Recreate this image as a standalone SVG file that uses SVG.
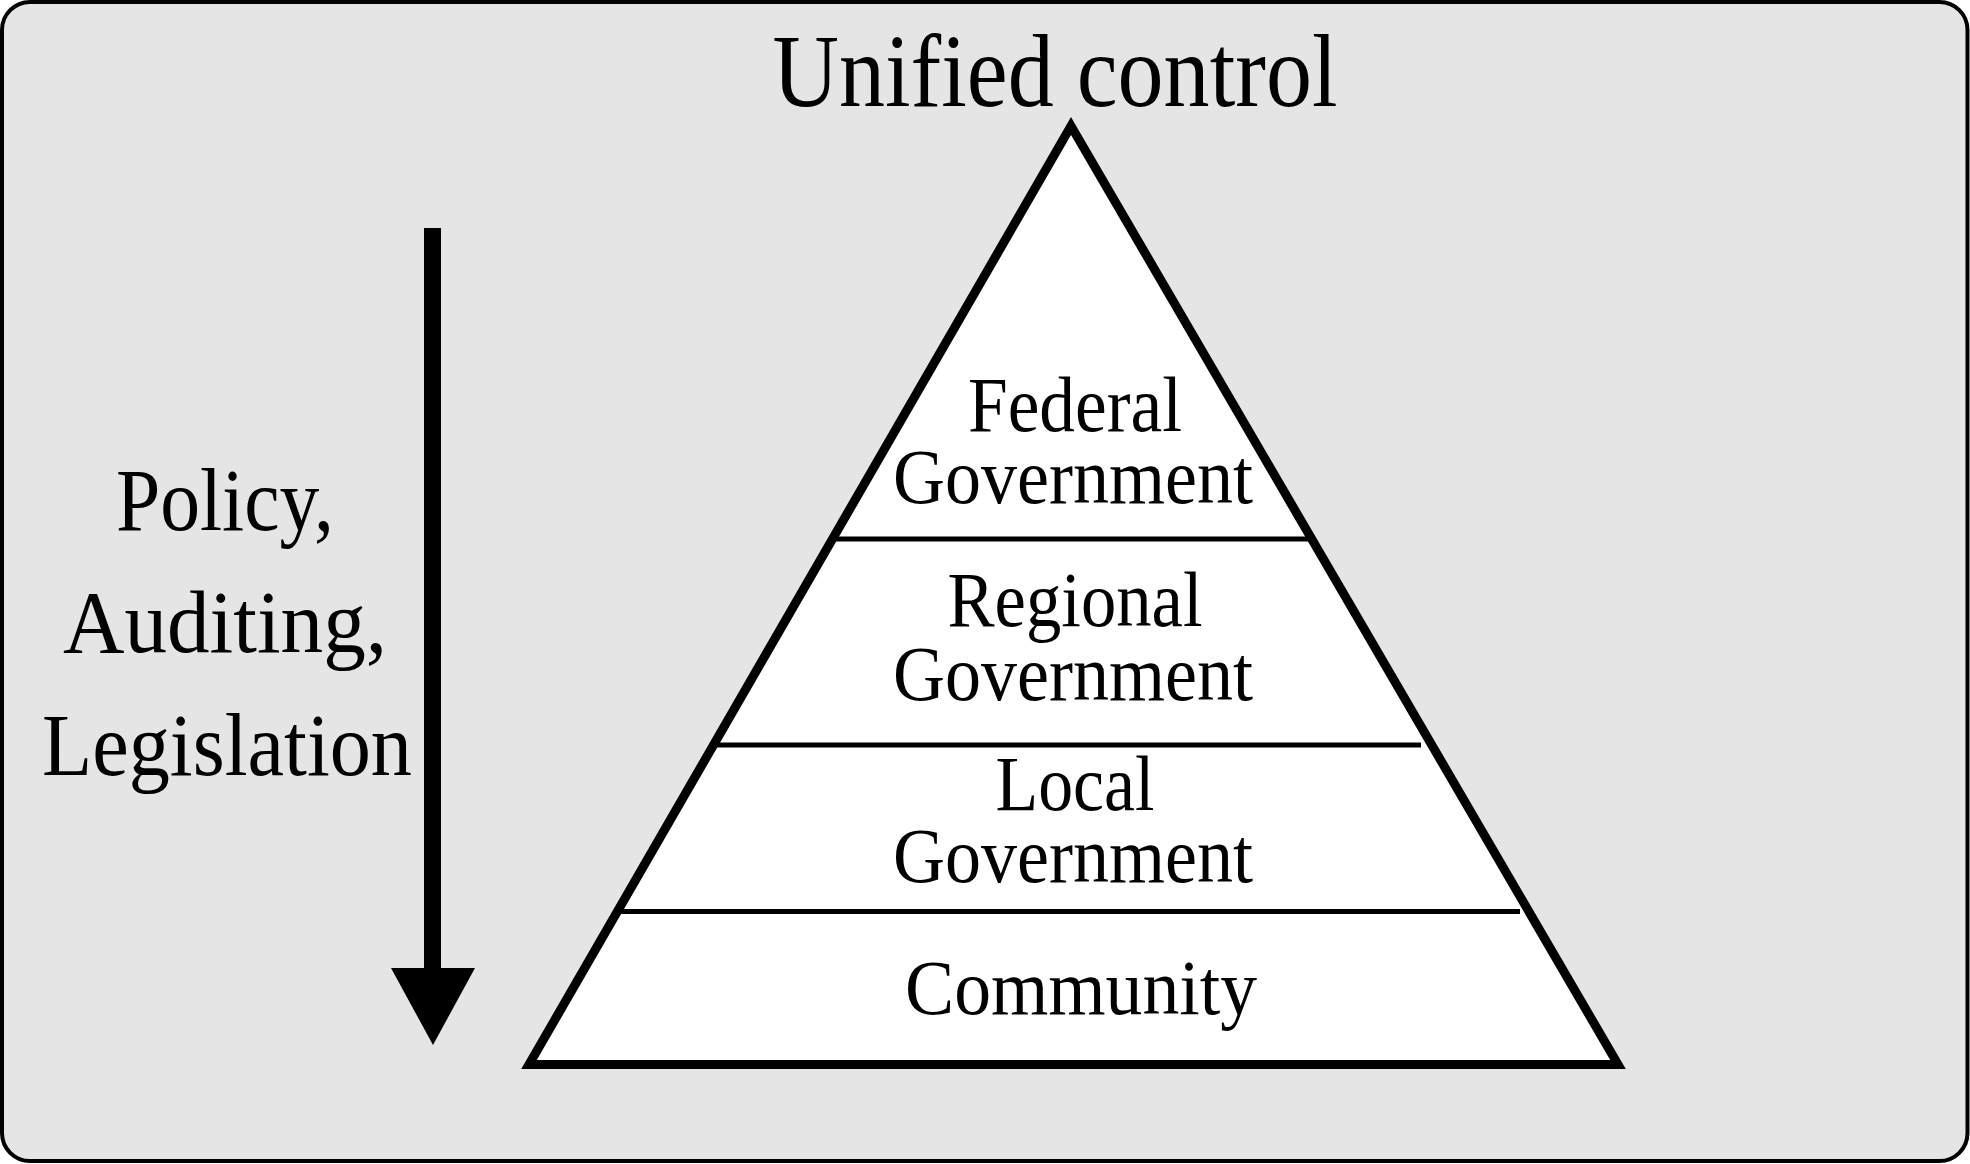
<svg xmlns="http://www.w3.org/2000/svg" width="1970" height="1164" viewBox="0 0 1970 1164">
  <style>
    .t { font-family: "Liberation Serif", "Times New Roman", serif; fill: #000; text-anchor: middle; }
    .lvl { font-size: 78px; }
    .side { font-size: 88px; }
    .div { stroke: #000; stroke-width: 5; fill: none; }
  </style>
  <g id="background">
    <rect x="2" y="2" width="1965.5" height="1159" rx="28" ry="28" fill="#e5e5e5" stroke="#000" stroke-width="4"/>
  </g>
  <g id="title">
    <text class="t" x="1055" y="106" font-size="104" textLength="565" lengthAdjust="spacingAndGlyphs">Unified control</text>
  </g>
  <g id="pyramid">
    <polygon points="1071,126 1618,1064.5 529,1064.5" fill="#fff" stroke="#000" stroke-width="9" stroke-linejoin="miter" stroke-miterlimit="10"/>
  </g>
  <g id="dividers">
    <line class="div" x1="834" y1="539" x2="1310" y2="539"/>
    <line class="div" x1="716" y1="745" x2="1421" y2="745"/>
    <line class="div" x1="620" y1="911.5" x2="1520" y2="911.5"/>
  </g>
  <g id="federal">
    <text class="t lvl" x="1075" y="431" textLength="214" lengthAdjust="spacingAndGlyphs">Federal</text>
    <text class="t lvl" x="1073" y="503" textLength="360" lengthAdjust="spacingAndGlyphs">Government</text>
  </g>
  <g id="regional">
    <text class="t lvl" x="1075" y="626" textLength="255" lengthAdjust="spacingAndGlyphs">Regional</text>
    <text class="t lvl" x="1073" y="700" textLength="360" lengthAdjust="spacingAndGlyphs">Government</text>
  </g>
  <g id="local">
    <text class="t lvl" x="1075" y="810" textLength="159" lengthAdjust="spacingAndGlyphs">Local</text>
    <text class="t lvl" x="1073" y="882" textLength="360" lengthAdjust="spacingAndGlyphs">Government</text>
  </g>
  <g id="community">
    <text class="t lvl" x="1081" y="1014" textLength="352" lengthAdjust="spacingAndGlyphs">Community</text>
  </g>
  <g id="connectors">
    <rect x="424" y="228" width="17" height="742" fill="#000"/>
    <polygon points="391,968 475,968 433,1045" fill="#000"/>
  </g>
  <g id="side-label">
    <text class="t side" x="225" y="530" textLength="218" lengthAdjust="spacingAndGlyphs">Policy,</text>
    <text class="t side" x="225" y="652" textLength="324" lengthAdjust="spacingAndGlyphs">Auditing,</text>
    <text class="t side" x="227" y="775" textLength="370" lengthAdjust="spacingAndGlyphs">Legislation</text>
  </g>
</svg>
